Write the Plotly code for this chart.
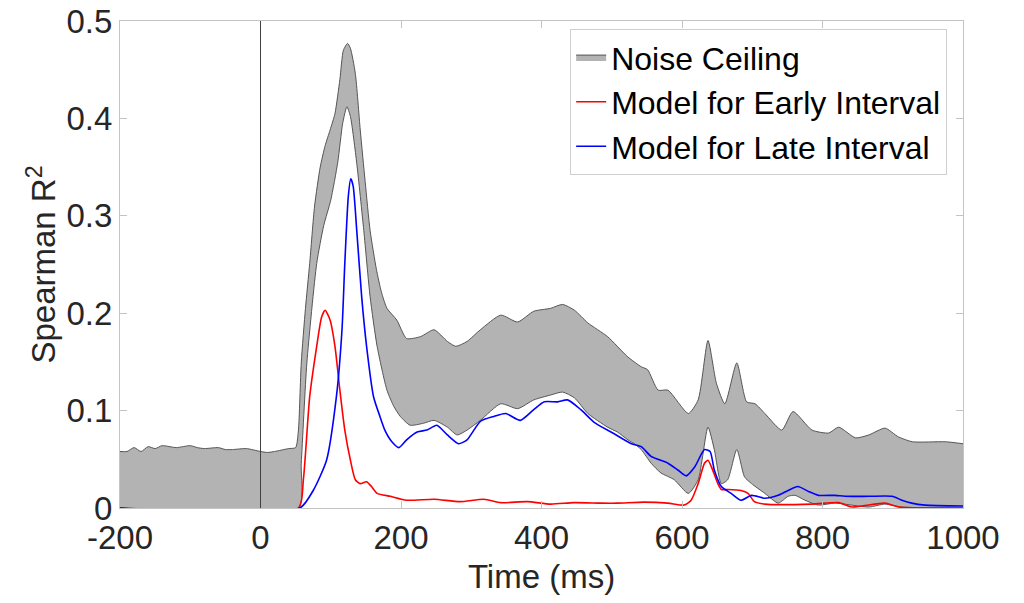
import plotly.graph_objects as go

# ---- data (time in ms, Spearman R^2) ----
nc_hi_t = [-200, -190, -180, -170, -160, -150, -140, -120, -100, -90, -80, -60, -50, -40, -20, 0, 10, 20, 40, 50,
           54, 58, 64, 70, 77, 85, 92, 99, 106, 113, 118, 124, 128, 135, 142, 149, 156, 165, 172, 180, 194, 208,
           228, 247, 266, 278, 294, 313, 342, 366, 389, 413, 430, 447, 466, 494, 523, 542, 551, 566, 580, 609,
           623, 637, 649, 661, 678, 692, 704, 718, 742, 758, 785, 809, 823, 847, 866, 889, 908, 928, 975, 1000]
nc_hi_v = [0.058, 0.058, 0.062, 0.058, 0.063, 0.061, 0.064, 0.062, 0.064, 0.062, 0.061, 0.062, 0.060, 0.060, 0.061,
           0.058, 0.057, 0.058, 0.061, 0.062,
           0.080, 0.149, 0.205, 0.251, 0.310, 0.350, 0.372, 0.388, 0.405, 0.440, 0.470, 0.477, 0.472, 0.446, 0.388,
           0.335, 0.285, 0.245, 0.222, 0.205, 0.193, 0.174,
           0.176, 0.183, 0.171, 0.166, 0.171, 0.183, 0.198, 0.191, 0.202, 0.205, 0.209, 0.203, 0.190, 0.176,
           0.155, 0.145, 0.142, 0.121, 0.121, 0.097,
           0.111, 0.172, 0.128, 0.107, 0.149, 0.109, 0.107, 0.097, 0.080, 0.099, 0.080, 0.077, 0.083, 0.072,
           0.075, 0.082, 0.073, 0.068, 0.068, 0.066]

nc_lo_t = [-200, 54, 58, 66, 80, 90, 100, 110, 117, 123, 128, 137, 147, 156, 166, 180, 190, 199, 213, 232, 247,
           266, 280, 294, 313, 342, 366, 389, 413, 430, 447, 466, 494, 508, 523, 532, 542, 556, 570, 589, 609,
           623, 637, 646, 656, 665, 678, 689, 699, 718, 737, 751, 761, 775, 794, 818, 866, 889, 913, 1000]
nc_lo_v = [0.0, 0.0, 0.046, 0.149, 0.251, 0.290, 0.316, 0.355, 0.395, 0.412, 0.402, 0.354, 0.285, 0.217, 0.166,
           0.121, 0.104, 0.094, 0.085, 0.087, 0.090,
           0.083, 0.075, 0.080, 0.090, 0.107, 0.102, 0.111, 0.116, 0.119, 0.113, 0.097, 0.083, 0.078, 0.070,
           0.066, 0.060, 0.046, 0.036, 0.029, 0.015,
           0.029, 0.083, 0.060, 0.025, 0.029, 0.060, 0.032, 0.025, 0.015, 0.005, 0.012, 0.013, 0.008, 0.003,
           0.005, 0.001, 0.004, 0.001, 0.0]

early_t = [-200, 54, 61, 70, 80, 87, 92, 99, 106, 113, 120, 128, 135, 142, 151, 158, 166, 185, 208, 247, 284,
           318, 342, 380, 413, 446, 485, 508, 546, 580, 603, 613, 623, 632, 637, 642, 651, 656, 665, 684, 694,
           703, 718, 785, 823, 842, 889, 908, 1000]
early_v = [0.0, 0.0, 0.029, 0.114, 0.166, 0.196, 0.203, 0.193, 0.166, 0.121, 0.080, 0.049, 0.029, 0.025, 0.027,
           0.022, 0.015, 0.012, 0.008, 0.009, 0.0065,
           0.009, 0.0055, 0.0065, 0.004, 0.0055, 0.005, 0.005, 0.006, 0.005, 0.003, 0.008, 0.025, 0.046, 0.049,
           0.042, 0.025, 0.019, 0.019, 0.018, 0.015,
           0.0065, 0.004, 0.004, 0.0055, 0.001, 0.005, 0.001, 0.0]

late_t = [-200, 56, 75, 94, 108, 116, 120, 125, 128.5, 132, 137, 144, 151, 161, 170, 177, 187, 197, 208, 223,
          237, 251, 266, 282, 294, 313, 332, 349, 370, 389, 404, 423, 437, 456, 475, 504, 528, 542, 556, 580,
          594, 606, 618, 632, 640, 646, 656, 670, 684, 699, 718, 737, 751, 765, 780, 794, 818, 832, 866, 899,
          913, 927, 946, 1000]
late_v = [0.0, 0.0, 0.018, 0.049, 0.114, 0.183, 0.251, 0.320, 0.338, 0.330, 0.285, 0.217, 0.166, 0.114, 0.094,
          0.080, 0.068, 0.062, 0.070, 0.078,
          0.080, 0.085, 0.075, 0.066, 0.070, 0.089, 0.094, 0.097, 0.090, 0.101, 0.109, 0.109, 0.111, 0.101,
          0.088, 0.076, 0.066, 0.063, 0.053, 0.046,
          0.039, 0.033, 0.042, 0.060, 0.058, 0.039, 0.022, 0.015, 0.008, 0.013, 0.010, 0.013, 0.018, 0.022,
          0.017, 0.013, 0.013, 0.012, 0.012, 0.012,
          0.008, 0.005, 0.003, 0.002]

x_ticks = [-200, 0, 200, 400, 600, 800, 1000]
x_tick_labels = ["-200", "0", "200", "400", "600", "800", "1000"]
y_ticks = [0, 0.1, 0.2, 0.3, 0.4, 0.5]
y_tick_labels = ["0", "0.1", "0.2", "0.3", "0.4", "0.5"]

FONT = "Liberation Sans, Arial, Helvetica, sans-serif"
TXT = "#262626"
AX = "#c4c4c4"

fig = go.Figure()
fig.add_trace(go.Scatter(x=nc_lo_t, y=nc_lo_v, mode="lines", line=dict(color="#555555", width=1, shape="spline", smoothing=0.6),
                         showlegend=False, hoverinfo="skip"))
fig.add_trace(go.Scatter(x=nc_hi_t, y=nc_hi_v, mode="lines", fill="tonexty", fillcolor="#b3b3b3",
                         line=dict(color="#555555", width=1, shape="spline", smoothing=0.6), name="Noise Ceiling"))
fig.add_trace(go.Scatter(x=early_t, y=early_v, mode="lines", line=dict(color="#ff0000", width=1.6, shape="spline", smoothing=0.6),
                         name="Model for Early Interval"))
fig.add_trace(go.Scatter(x=late_t, y=late_v, mode="lines", line=dict(color="#0000ff", width=1.6, shape="spline", smoothing=0.6),
                         name="Model for Late Interval"))

fig.add_shape(type="line", x0=0, x1=0, y0=0, y1=0.5, xref="x", yref="y",
              line=dict(color="#404040", width=1), layer="above")

# the page body adds an 8px offset; margins compensate so the plot area sits at x 120-963, y 21-508
fig.update_layout(
    width=1024, height=603,
    margin=dict(l=112, r=69, t=13, b=103, autoexpand=False),
    paper_bgcolor="white", plot_bgcolor="white",
    font=dict(family=FONT, size=33, color=TXT),
    legend=dict(x=0.534, y=0.984, xanchor="left", yanchor="top", bgcolor="white",
                bordercolor="#cfcfcf", borderwidth=1, font=dict(size=32, color="#000000"),
                traceorder="normal", tracegroupgap=0, itemwidth=30),
    xaxis=dict(range=[-200, 1000], tickvals=x_ticks, ticktext=x_tick_labels, showgrid=False, zeroline=False,
               showline=True, linecolor=AX, linewidth=1, mirror="ticks", automargin=False,
               ticks="inside", ticklen=7, tickcolor=AX, ticklabeloverflow="allow",
               tickfont=dict(size=33, color=TXT),
               title=dict(text="Time (ms)", font=dict(size=33, color=TXT), standoff=10)),
    yaxis=dict(range=[0, 0.5], tickvals=y_ticks, ticktext=y_tick_labels, showgrid=False, zeroline=False,
               showline=True, linecolor=AX, linewidth=1, mirror="ticks", automargin=False,
               ticks="inside", ticklen=7, tickcolor=AX, ticklabeloverflow="allow",
               tickfont=dict(size=33, color=TXT),
               title=dict(text="Spearman R<sup>2</sup>", font=dict(size=33, color=TXT), standoff=0)),
)

fig.write_html("out.html")
